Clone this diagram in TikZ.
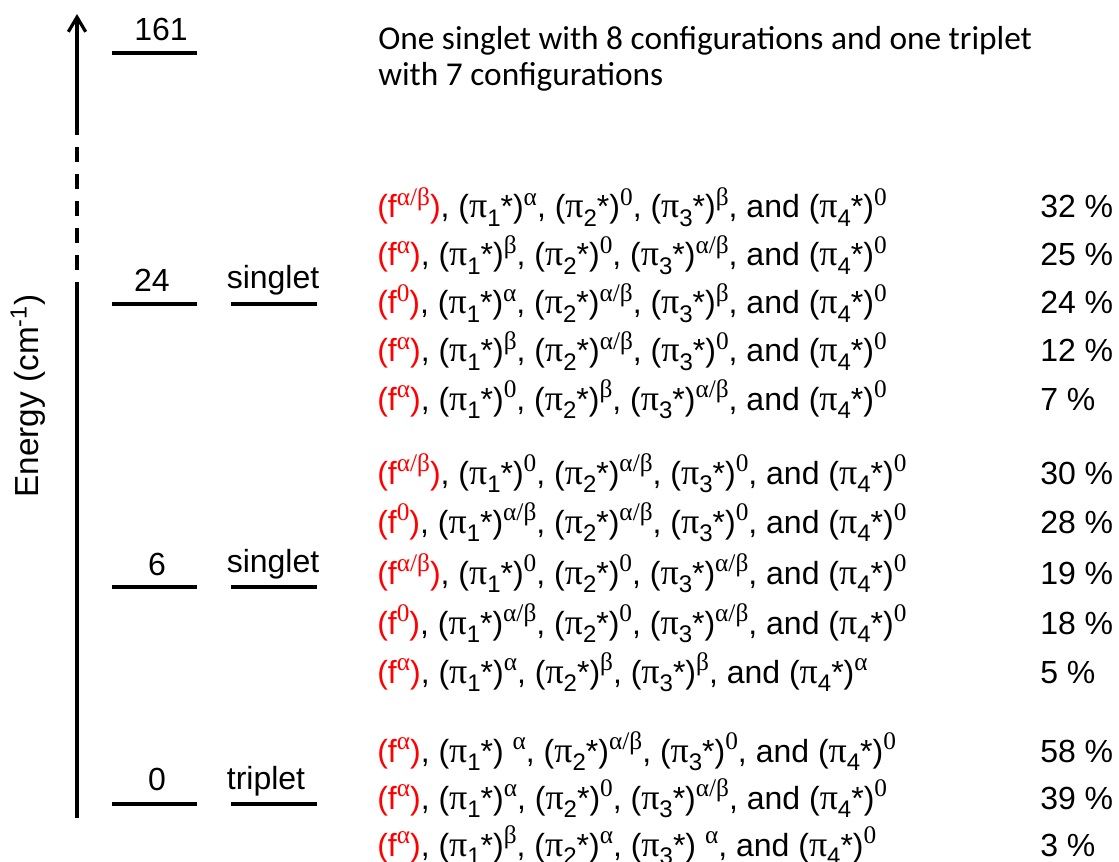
\documentclass[tikz,border=0pt]{standalone}
\usepackage{fontspec}
\setmainfont{Liberation Sans}
\newfontfamily\serifgr{Liberation Serif}
\newfontfamily\califont{Carlito}
\usetikzlibrary{arrows.meta}
\newcommand{\up}[1]{\raisebox{0.40em}{\fontsize{19}{19}\selectfont\serifgr #1}}
\newcommand{\dn}[1]{\raisebox{-0.26em}{\fontsize{18}{18}\selectfont #1}}
\newcommand{\pis}[1]{({\fontsize{27}{27}\selectfont\serifgr π}\dn{#1}*)}
\newcommand{\fx}[1]{\textcolor{red}{(f\up{#1})}}
\tikzset{
  row/.style={anchor=base west, inner sep=0pt, font=\fontsize{24}{24}\selectfont},
  pct/.style={anchor=base west, inner sep=0pt, font=\fontsize{24}{24}\selectfont},
  lab/.style={anchor=base, inner sep=0pt, font=\fontsize{24}{24}\selectfont},
  level/.style={line width=2.4pt},
  axis/.style={line width=2.4pt},
}
\begin{document}
\begin{tikzpicture}[x=0.75pt,y=-0.75pt]
\useasboundingbox (0,0) rectangle (1119,862);
\clip (0,0) rectangle (1119,862);
% axis
\coordinate (a0) at (77,818);
\coordinate (a1) at (77,297);
\coordinate (a2) at (77,132);
\coordinate (a3) at (77,14);
\draw[axis] (a0) -- (a1);
\draw[axis, dash pattern=on 11.25pt off 9pt] (a1) -- (a2);
\draw[axis, -{Straight Barb[length=11pt,width=13pt,line width=2.4pt]}] (a2) -- (a3);
\node[rotate=90, inner sep=0pt, font=\fontsize{25}{25}\selectfont] (elab) at (28,396) {Energy (cm\textsuperscript{-1})};
% levels
\foreach \n/\y in {l161/53, l24/304, l6/587, l0/804}{
  \coordinate (\n a) at (112,\y); \coordinate (\n b) at (197,\y);
  \draw[level] (\n a) -- (\n b);
}
\foreach \n/\y in {s24/304, s6/587, t0/804}{
  \coordinate (\n a) at (231,\y); \coordinate (\n b) at (317,\y);
  \draw[level] (\n a) -- (\n b);
}
\node[lab] (n161) at (161,41) {161};
\node[lab] (n24) at (152,292) {24};
\node[lab] (n6) at (157,575) {6};
\node[lab] (n0) at (157,790) {0};
\node[lab] (ns24) at (273,289) {singlet};
\node[lab] (ns6) at (273,572) {singlet};
\node[lab] (nt0) at (266,789) {triplet};
% top text
\node[anchor=base west, inner sep=0pt, align=left, font=\califont\fontsize{25}{27}\selectfont] (top) at (378,86)
  {One singlet with 8 configurations and one triplet\\with 7 configurations};
% rows
\node[row] (r1) at (377,218) {\fx{α/β}, \pis{1}\up{α}, \pis{2}\up{0}, \pis{3}\up{β}, and \pis{4}\up{0}};
\node[row] (r2) at (377,266) {\fx{α}, \pis{1}\up{β}, \pis{2}\up{0}, \pis{3}\up{α/β}, and \pis{4}\up{0}};
\node[row] (r3) at (377,314) {\fx{0}, \pis{1}\up{α}, \pis{2}\up{α/β}, \pis{3}\up{β}, and \pis{4}\up{0}};
\node[row] (r4) at (377,362) {\fx{α}, \pis{1}\up{β}, \pis{2}\up{α/β}, \pis{3}\up{0}, and \pis{4}\up{0}};
\node[row] (r5) at (377,410) {\fx{α}, \pis{1}\up{0}, \pis{2}\up{β}, \pis{3}\up{α/β}, and \pis{4}\up{0}};
\node[row] (r6) at (377,484) {\fx{α/β}, \pis{1}\up{0}, \pis{2}\up{α/β}, \pis{3}\up{0}, and \pis{4}\up{0}};
\node[row] (r7) at (377,533) {\fx{0}, \pis{1}\up{α/β}, \pis{2}\up{α/β}, \pis{3}\up{0}, and \pis{4}\up{0}};
\node[row] (r8) at (377,584) {\fx{α/β}, \pis{1}\up{0}, \pis{2}\up{0}, \pis{3}\up{α/β}, and \pis{4}\up{0}};
\node[row] (r9) at (377,634) {\fx{0}, \pis{1}\up{α/β}, \pis{2}\up{0}, \pis{3}\up{α/β}, and \pis{4}\up{0}};
\node[row] (r10) at (377,683) {\fx{α}, \pis{1}\up{α}, \pis{2}\up{β}, \pis{3}\up{β}, and \pis{4}\up{α}};
\node[row] (r11) at (377,762) {\fx{α}, \pis{1} \up{α}, \pis{2}\up{α/β}, \pis{3}\up{0}, and \pis{4}\up{0}};
\node[row] (r12) at (377,809) {\fx{α}, \pis{1}\up{α}, \pis{2}\up{0}, \pis{3}\up{α/β}, and \pis{4}\up{0}};
\node[row] (r13) at (377,856) {\fx{α}, \pis{1}\up{β}, \pis{2}\up{α}, \pis{3} \up{α}, and \pis{4}\up{0}};
% percentages
\node[pct] (p1) at (1040,218) {32 \%};
\node[pct] (p2) at (1040,266) {25 \%};
\node[pct] (p3) at (1040,314) {24 \%};
\node[pct] (p4) at (1040,362) {12 \%};
\node[pct] (p5) at (1040,410) {7 \%};
\node[pct] (p6) at (1040,484) {30 \%};
\node[pct] (p7) at (1040,533) {28 \%};
\node[pct] (p8) at (1040,584) {19 \%};
\node[pct] (p9) at (1040,634) {18 \%};
\node[pct] (p10) at (1040,683) {5 \%};
\node[pct] (p11) at (1040,762) {58 \%};
\node[pct] (p12) at (1040,809) {39 \%};
\node[pct] (p13) at (1040,856) {3 \%};
\end{tikzpicture}
\end{document}
